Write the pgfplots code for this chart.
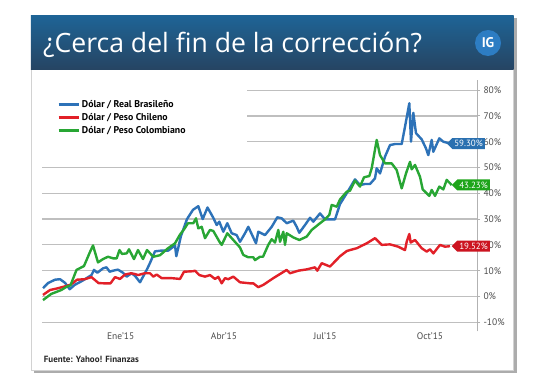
\documentclass[border=0pt]{standalone}
\usepackage{fontspec}
\setmainfont{PT Sans}
\newfontfamily\titlefont{Open Sans}
\usepackage{pgfplots}
\pgfplotsset{compat=1.18}
\usetikzlibrary{shapes.symbols}
\definecolor{cblue}{RGB}{45,114,184}
\definecolor{cred}{RGB}{226,32,40}
\definecolor{cgreen}{RGB}{40,166,52}
\definecolor{bblue}{RGB}{42,112,176}
\definecolor{bred}{RGB}{204,20,32}
\definecolor{bgreen}{RGB}{30,165,26}
\definecolor{hdtop}{RGB}{30,100,150}
\definecolor{hdbot}{RGB}{38,68,98}
\definecolor{igblue}{RGB}{45,125,195}
\begin{document}
\begin{tikzpicture}[x=1pt,y=1pt]
\useasboundingbox (0,0) rectangle (548,383);
\fill[white] (0,0) rectangle (548,383);
\fill[gray!65] (33.5,383-373) rectangle (516.5,383-18);
\fill[white,draw=gray!35] (30.8,383-370) rectangle (513.5,383-15.5);
\shade[top color=hdtop, bottom color=hdbot] (30.8,383-70) rectangle (513.5,383-15.5);
\node[anchor=base west, text=white, font=\titlefont\fontsize{26.6}{26.6}\selectfont, inner sep=0] at (43,383-52.5) {¿Cerca del fin de la corrección?};
\fill[igblue] (488,383-43) circle (13);
\node[text=white, font=\bfseries\fontsize{14}{14}\selectfont] at (488,383-43) {IG};
\begin{axis}[
  at={(42pt,51.7pt)}, anchor=south west, scale only axis,
  width=435pt, height=251.5pt,
  xmin=42, xmax=477, ymin=-13.5, ymax=84,
  axis x line*=bottom, x axis line style={draw=none},
  axis y line*=right, y axis line style={draw=gray!60, line width=1pt},
  xtick={120.6,224,325,430}, xticklabels={Ene’15,Abr’15,Jul’15,Oct’15},
  xtick style={draw=none},
  ytick={-10,0,...,80}, yticklabel={\pgfmathprintnumber{\tick}\%},
  ytick style={draw=gray!60, line width=1pt}, tick align=outside, major tick length=3pt,
  ymajorgrids, grid style={gray!50, line width=1.2pt},
  tick label style={font=\fontsize{9.5}{10}\selectfont, text=black!70},
  xticklabel style={anchor=center, yshift=-2.2pt},
  /pgf/number format/assume math mode=true,
  legend style={at={(0.0352,0.8493)}, anchor=west, draw=none, fill=none, inner sep=0pt,
    font=\bfseries\fontsize{9.8}{11}\selectfont,
    nodes={inner sep=2pt, text height=7pt, text depth=2pt},
    /tikz/every even column/.style={column sep=3pt}},
  legend cell align=left,
  legend image code/.code={\draw[#1] (0pt,0pt) -- (20pt,0pt);},
]
\fill[white] (axis cs:42,55) rectangle (axis cs:247,84);
\addplot[cblue, line width=2.4pt, line join=round] coordinates {
(43,3.2)(48,5.2)(55,6.5)(60,6.7)(65,5.3)(69.7,2.8)(74.7,4.5)(82,6.0)(91.5,8.3)(94,10.3)(97.3,9.2)(100,10.0)(103,10.9)(106.5,11.3)(109.7,9.6)(113,10.0)(118,10.4)(123,9.2)(126.7,7.7)(131.5,9.0)(135,8.0)(140,5.5)(146.7,10.3)(150,13)(155,17.5)(161.7,17.8)(168.3,17.8)(175,19.8)(176.3,15.6)(181,23.5)(187,30)(193,33.6)(198.3,35.0)(202.7,30.0)(207.5,34.5)(213.3,30.5)(216.7,27.7)(219.3,29)(223.3,25.1)(227.3,28.4)(231.7,24.5)(236.7,23.8)(240,21.2)(245,24.5)(248.3,27)(256,20.6)(258.3,25.1)(265,23.8)(271.7,27)(277.3,30.7)(281.7,30.3)(286.7,28.4)(293.3,29.4)(296.7,27)(299.3,24.7)(305,27.7)(310,30.5)(313.3,29)(320,32.2)(325,29.9)(335,29.9)(340,35.8)(346.7,40)(355,45.4)(360,43.2)(365,43.6)(370,43.6)(375,45.8)(376.7,49.7)(380,47.7)(385,54.2)(390,58.7)(395,59.1)(401.7,59.1)(405,65.8)(409.3,74.9)(411,60)(413.3,71.2)(416,63.3)(421.7,60.9)(426,57.4)(428.3,54.8)(431.7,60.7)(433.3,56.1)(439.3,61.3)(443.3,60)(450,59.3)
};
\addlegendentry{Dólar / Real Brasileño}
\addplot[cred, line width=2.4pt, line join=round] coordinates {
(43,0.6)(50,2.5)(58,3.2)(66.7,4.1)(70,4.5)(73.3,5.3)(77,6.5)(84.7,6.7)(91.5,7.5)(98.5,5.2)(104,5.1)(110.5,5.1)(115,7.5)(120,6.8)(125,8.5)(131,9)(135,8.7)(138,8.3)(144.7,9)(150,9)(153.3,7.7)(156.7,8.5)(161.7,7.1)(171.7,7.1)(180,6.8)(184,9.6)(193.3,9.8)(195,10)(199.3,8.3)(205,7.7)(210,8.3)(215,6.8)(218.3,7.6)(221.7,5.1)(225,7.1)(228.3,6.7)(233.3,7.7)(240,5.5)(250,5.1)(253.3,5.1)(258.3,3.6)(263.3,4.5)(273.3,7.1)(286.7,10.3)(290,9)(298.3,10)(306.7,10.5)(315,11.3)(317.3,10)(321.7,12.9)(330,11.6)(340,15.6)(346.7,17.6)(350,18)(356.7,18.7)(366.7,20.6)(375,22.6)(381.7,20)(390,20.2)(398.3,19.3)(405,18)(406.7,21.2)(409.3,24.2)(410.7,20.9)(415,21.9)(421.7,18.7)(426.7,17.4)(430,18.3)(433.3,16.7)(440,20)(445,19.3)(450,19.5)
};
\addlegendentry{Dólar / Peso Chileno}
\addplot[cgreen, line width=2.4pt, line join=round] coordinates {
(43,-1.4)(51.3,1)(61.3,2.5)(66.7,3.8)(70.5,4.3)(76.5,10.3)(84,11.8)(89.7,17)(93,19.8)(98,13.2)(103,14.5)(108,15.4)(113,14.8)(116.7,14.8)(119.5,18)(122,16.5)(126.7,16.7)(129,18.3)(134,14.5)(138,18)(143,14.5)(147,18)(153.3,15.4)(160,16)(168,18.7)(175,20.6)(180,24)(184,26)(188,28.4)(193.3,28.4)(196,30.3)(198.3,26.4)(201.7,27)(205,22.6)(210,25.8)(213.3,25.4)(219.5,21.2)(221.7,20)(227.3,24.5)(233.3,21.9)(240,19)(243.3,16.1)(248.3,15.2)(253.3,15.2)(255,14.1)(260,15.4)(263,15.4)(268.3,20)(271.7,22.2)(275,20.9)(278.3,25.8)(280,21.2)(283.3,25.1)(285,20)(286.7,24.5)(293.3,22.9)(299.3,21.9)(306.7,23.2)(311.7,25.8)(320,28.4)(325,29.9)(329.3,31.6)(331.7,35.5)(336.7,34.8)(340,37.6)(346.7,40.6)(350,41)(355,44.9)(360,42.6)(364,46.2)(369.3,46.7)(371.7,49.7)(376.7,60.7)(380,54.8)(385,51.6)(391.7,51.6)(396.7,49)(401.7,41.9)(406,47.7)(410,52.2)(411.7,49.3)(415,51)(420,46.4)(422.7,41.5)(429.3,39)(431.7,41.3)(435,39)(439.3,42.6)(443.3,41.5)(446.7,45.2)(451.7,43.2)
};
\addlegendentry{Dólar / Peso Colombiano}
\coordinate (lb) at (axis cs:446.5,59.3);
\coordinate (lr) at (axis cs:451.5,19.52);
\coordinate (lg) at (axis cs:451.5,43.23);
\end{axis}
\tikzset{vbox/.style={signal, signal to=west, anchor=west, text=white, font=\fontsize{9}{9}\selectfont, minimum height=11pt, inner xsep=2pt, inner ysep=0pt}}
\node[vbox, fill=bblue] at (lb) {59.30\%};
\node[vbox, fill=bgreen] at (lg) {43.23\%};
\node[vbox, fill=bred] at (lr) {19.52\%};
\node[anchor=west, font=\bfseries\fontsize{9}{9}\selectfont, inner sep=0, text=black!85] at (43.7,383-359) {Fuente: Yahoo! Finanzas};
\end{tikzpicture}
\end{document}
